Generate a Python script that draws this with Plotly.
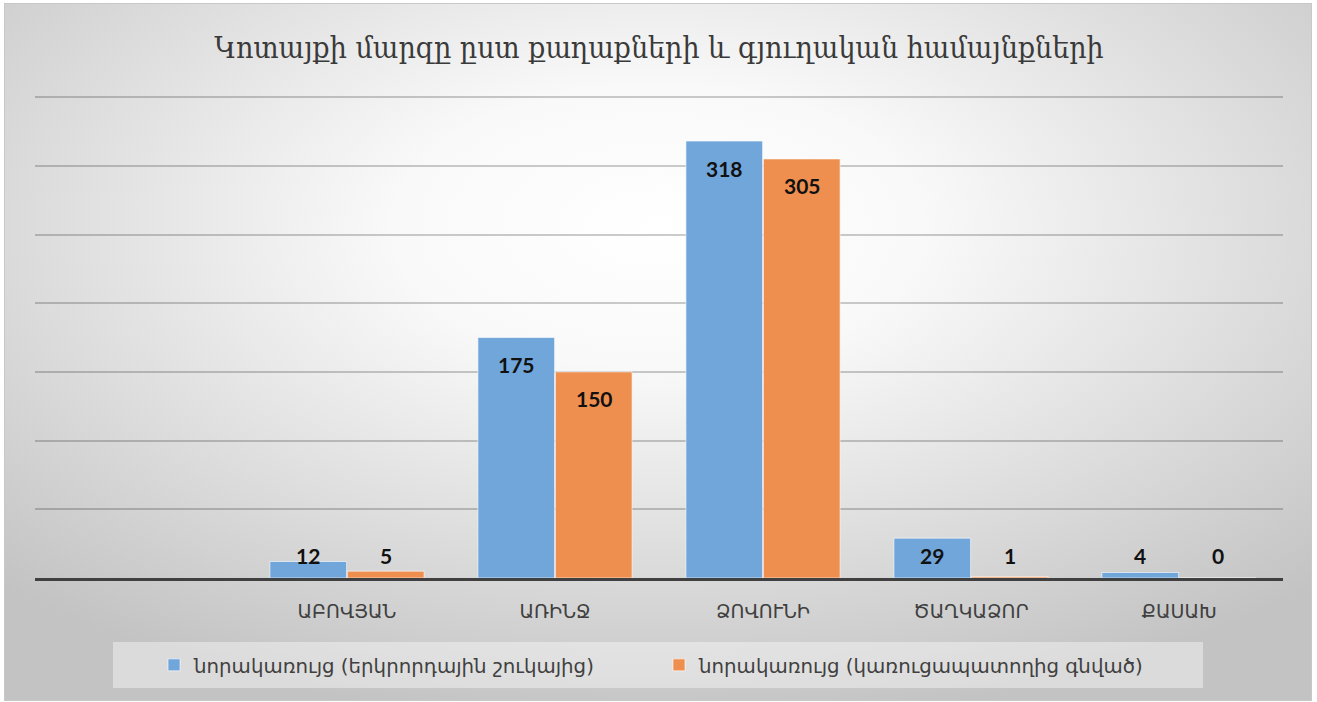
import plotly.graph_objects as go
import urllib.parse

categories = [" ", "ԱԲՈՎՅԱՆ", "ԱՌԻՆՋ", "ՁՈՎՈՒՆԻ", "ԾԱՂԿԱՁՈՐ", "ՔԱՍԱԽ"]
series1_name = "նորակառույց (երկրորդային շուկայից)"
series2_name = "նորակառույց (կառուցապատողից գնված)"
series1 = [None, 12, 175, 318, 29, 4]
series2 = [None, 5, 150, 305, 1, 0]
title_text = "Կոտայքի մարզը ըստ քաղաքների և գյուղական համայնքների"

W, H = 1317, 702
L, R, T, B = 35, 34, 96, 124
pw, ph = W - L - R, H - T - B

blue = "#71a6da"
orange = "#ef8f4f"

svg = (
    '<svg xmlns="http://www.w3.org/2000/svg" width="1308" height="698" viewBox="0 0 1308 698" preserveAspectRatio="none">'
    '<defs><radialGradient id="g" cx="50%" cy="32%" r="72%" fx="50%" fy="32%" gradientUnits="objectBoundingBox">'
    '<stop offset="0" stop-color="#ffffff"/><stop offset="0.28" stop-color="#f9f9f9"/>'
    '<stop offset="1" stop-color="#c3c3c3"/></radialGradient></defs>'
    '<rect x="0.5" y="0.5" width="1307" height="697" fill="url(#g)" stroke="#c8c8c8" stroke-width="1"/></svg>'
)
src = "data:image/svg+xml;charset=utf-8," + urllib.parse.quote(svg)

fig = go.Figure()
fig.add_trace(go.Bar(name=series1_name, x=categories, y=series1,
                     marker=dict(color=blue, line=dict(color="rgba(255,255,255,0.6)", width=1))))
fig.add_trace(go.Bar(name=series2_name, x=categories, y=series2,
                     marker=dict(color=orange, line=dict(color="rgba(255,255,255,0.6)", width=1))))

annotations = []
for vals, xs in ((series1, -39), (series2, 39)):
    for c, v in zip(categories, vals):
        if v is None:
            continue
        if v > 36:
            y, ys = v, -27
        else:
            y, ys = 0, 23
        annotations.append(dict(x=c, y=y, xref="x", yref="y", text=str(v), showarrow=False,
                                xshift=xs, yshift=ys, yanchor="middle",
                                font=dict(family="Lato, 'DejaVu Sans', sans-serif", size=21, color="#111111", weight="bold")))

fig.update_layout(
    width=W, height=H, autosize=False,
    margin=dict(l=L, r=R, t=T, b=B),
    paper_bgcolor="white", plot_bgcolor="rgba(0,0,0,0)",
    title=dict(text=title_text, x=0.5, xanchor="center", xref="paper", y=1 - 47 / H, yanchor="middle",
               font=dict(family="'DejaVu Serif Condensed', 'DejaVu Serif', serif", size=30, color="#3a3a3a")),
    barmode="group", bargap=0.255, bargroupgap=0.01,
    xaxis=dict(type="category", categoryorder="array", categoryarray=categories,
               showline=True, linecolor="#404040", linewidth=3, showgrid=False,
               ticks="", ticklabelstandoff=14,
               tickfont=dict(family="'DejaVu Sans', sans-serif", size=19, color="#404040")),
    yaxis=dict(range=[0, 350.8], tickvals=[50, 100, 150, 200, 250, 300, 350], showticklabels=False, showgrid=True,
               gridcolor="rgba(0,0,0,0.2)", gridwidth=1.5, zeroline=False),
    legend=dict(orientation="h", x=0.5, xanchor="center", y=(578 - 665) / ph, yanchor="middle",
                bgcolor="rgba(0,0,0,0)", font=dict(family="'DejaVu Sans', sans-serif", size=19.8, color="#404040"),
                itemwidth=30, entrywidth=460),
    annotations=annotations,
    images=[dict(source=src, xref="paper", yref="paper",
                 x=(4 - L) / pw, y=(578 - 3) / ph, sizex=1308 / pw, sizey=698 / ph,
                 xanchor="left", yanchor="top", sizing="stretch", layer="below")],
    shapes=[dict(type="rect", xref="paper", yref="paper",
                 x0=(113 - L) / pw, x1=(1203 - L) / pw, y0=(578 - 642) / ph, y1=(578 - 688) / ph,
                 fillcolor="rgba(255,255,255,0.4)", line=dict(width=0), layer="below")],
)

fig.write_html("out.html", config={"displayModeBar": False},
               post_script="document.body.style.margin='0';document.body.style.overflow='hidden';")
